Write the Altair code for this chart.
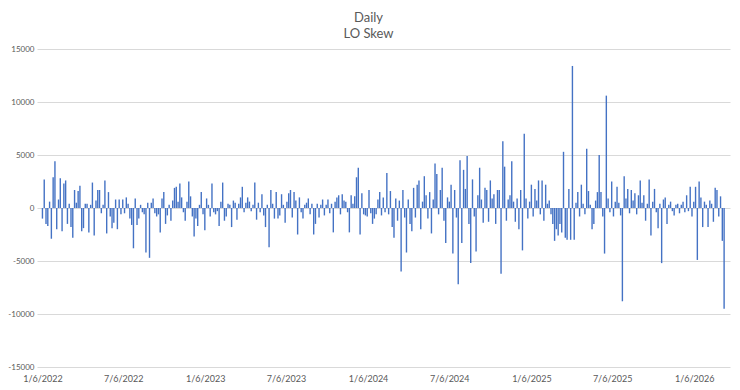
import altair as alt
import pandas as pd

start_date = "2022-01-06"
step_days = 4

values = [
    -1000, 2700, -1500, -1700, 600, -2900, 2900, 4400, -2000, 800, 2800,
    -2200, 2300, 2600, -1500, 400, -1800, -2800, 1700, 500, 1600, 2100,
    -2200, -1900, 400, 400, -2300, 300, 2400, -2600, 700, 1700, 1700,
    -500, 300, 2600, -2400, 1500, -800, -1900, -1400, 800, -2000, 800,
    -600, 800, -500, 1000, 400, -1000, -1600, -3800, 900, -1600, -1000,
    300, -400, -600, -4200, 500, -4700, 500, 900, -500, -800, -600,
    -2300, 900, 1500, -1500, -700, 300, -1200, 700, 1900, 2000, 600,
    2300, 1000, -400, -1200, 600, 2500, 1100, -800, -2700, -1000, -1700,
    300, 1500, -600, -2100, 900, 300, -800, 2300, -400, -600, -300,
    -1700, 600, 2400, -1200, -800, 400, 300, -1800, 700, 500, -1100,
    400, 1000, 2000, -400, 500, 1000, 600, -300, 300, 2400, -1100,
    500, -400, 1300, -700, -1800, 300, -3700, 1700, 400, -1000, 1500,
    -1000, -700, 1300, 300, -1400, 600, 1400, 1700, -900, 1500, 700,
    -2500, 1000, -400, -1000, 300, 500, 900, -600, 400, -2500, -1500,
    400, -900, 300, 800, -700, 300, 800, -500, 400, -2300, 600,
    1000, 1200, -600, 1300, 700, 600, -400, -2300, 1200, 400, 1100,
    2900, 3800, -2500, 1400, -600, -700, -800, 1700, -500, -1500, -1000,
    -600, 800, 1500, -700, 1000, -400, 3300, -600, 1600, -1800, -2800,
    900, -1200, 700, -6000, 1700, -900, -4200, 800, -1500, -2200, 1900,
    -900, 2200, 2600, -2000, 600, 3000, 1200, -1000, 1500, -2400, 800,
    4200, 3200, -600, 1700, 3800, -1200, -3300, 1000, 600, 2200, -4300,
    1700, -900, -7200, 4500, -3300, 3600, 1800, 4900, -1500, -5200, 2700,
    -800, -4100, 1200, 3800, 800, -1400, 1900, 1700, -1300, 2600, 900,
    1300, -1500, 1700, 1700, -6200, 6300, 3900, -1200, 800, 1200, 4400,
    600, -1300, 900, -2000, 1700, -4000, 7000, 900, -1000, 600, 2200,
    -800, 1800, 700, 2600, -600, 2600, -1200, 2200, 400, 700, -600,
    -1500, -3100, -2000, -2600, -1500, -2300, 5300, -2800, -3000, 1800, -3000,
    13400, -3000, 500, 1500, -800, 2200, 400, -600, 5600, 1600, 300,
    -2000, -1500, 700, 1500, 5000, 1500, -800, -4300, 10600, 900, -400,
    2500, -800, 600, 2000, 500, -700, -8800, 3000, 900, 1800, -500,
    1700, 700, 1400, -600, 1200, 2600, 500, 1200, -1200, 400, 2700,
    -2600, 600, 1800, -400, -1900, 400, -5200, 800, 1000, -1500, 300,
    600, -300, -700, 300, 400, -500, 300, 600, -400, 1200, -300,
    2000, -800, 600, 2000, -4900, 2500, 1000, -1800, 600, 300, -1800,
    700, 400, -1300, 1900, 1700, -800, 1100, -3100, -9500,
]

y_ticks = [-15000, -10000, -5000, 0, 5000, 10000, 15000]
x_tick_dates = [
    (2022, 1, 6), (2022, 7, 6), (2023, 1, 6), (2023, 7, 6), (2024, 1, 6),
    (2024, 7, 6), (2025, 1, 6), (2025, 7, 6), (2026, 1, 6),
]

dates = pd.date_range(start=start_date, periods=len(values), freq=f"{step_days}D")
df = pd.DataFrame({
    "date": dates.strftime("%Y-%m-%dT%H:%M:%S"),
    "value": values,
})

last = dates[-1] + pd.Timedelta(days=2)
domain = [alt.DateTime(year=2022, month=1, date=5),
          alt.DateTime(year=last.year, month=last.month, date=last.day)]

grey = "#595959"
font = "Lato"

chart = alt.Chart(df).mark_bar(width=1.4, color="#4472C4").encode(
    x=alt.X("date:T",
            scale=alt.Scale(domain=domain),
            axis=alt.Axis(values=[alt.DateTime(year=y, month=m, date=d) for y, m, d in x_tick_dates],
                          format="%-m/%-d/%Y", grid=False, ticks=False, domain=False,
                          labelPadding=7, labelFontSize=9, labelColor=grey, labelFont=font,
                          title=None)),
    y=alt.Y("value:Q",
            scale=alt.Scale(domain=[-15000, 15000], nice=False),
            axis=alt.Axis(values=y_ticks, labelExpr="'' + datum.value", ticks=False, domain=False,
                          labelPadding=3, labelFontSize=8, labelColor=grey, labelFont=font,
                          gridColor="#D9D9D9", gridWidth=1, title=None)),
).properties(
    width=693,
    height=318,
    title=alt.TitleParams(text=["Daily", "LO Skew"], fontSize=13, font=font, color=grey,
                          fontWeight="normal", anchor="middle", dx=-15, offset=4,
                          lineHeight=16),
    autosize=alt.AutoSizeParams(type="none"),
    padding={"left": 29, "top": 41, "right": 2, "bottom": 20},
).configure_view(stroke=None)

chart.save("out.html", embed_options={"renderer": "svg", "actions": False})
